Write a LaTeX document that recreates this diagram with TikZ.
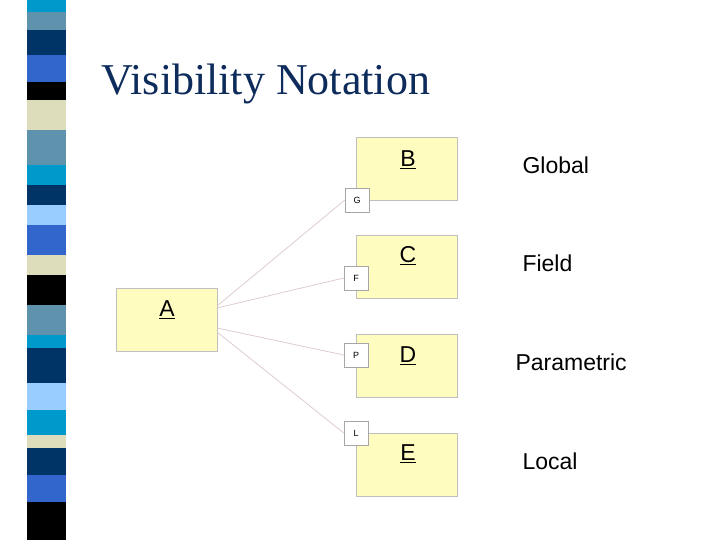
\documentclass[tikz,border=0pt]{standalone}
\usepackage{fontspec}
\setmainfont{Liberation Serif}
\setsansfont{Liberation Sans}
\begin{document}
\begin{tikzpicture}[x=1pt,y=-1pt,
  cls/.style={draw=black!25,fill=yellow!25!white,minimum width=101pt,minimum height=63pt,inner sep=0pt,anchor=north west},
  tag/.style={draw=black!35,fill=white,minimum width=24pt,minimum height=24pt,inner sep=0pt,font=\sffamily\fontsize{9}{9}\selectfont},
  cname/.style={font=\sffamily\fontsize{23}{23}\selectfont},
  lab/.style={font=\sffamily\fontsize{23}{23}\selectfont,anchor=west},
  conn/.style={draw=red!35!black!20,line width=0.8pt}]
\useasboundingbox (0,0) rectangle (720,540);
\definecolor{cA}{HTML}{0099CC}\definecolor{cB}{HTML}{5F93AD}\definecolor{cC}{HTML}{003366}
\definecolor{cD}{HTML}{3366CC}\definecolor{cE}{HTML}{000000}\definecolor{cF}{HTML}{DDDDBB}
\definecolor{cG}{HTML}{99CCFF}\definecolor{tcol}{HTML}{0D2C5C}
\foreach \a/\b/\c in {0/12/cA,12/30/cB,30/55/cC,55/82/cD,82/100/cE,100/130/cF,130/165/cB,165/185/cA,185/205/cC,205/225/cG,225/255/cD,255/275/cF,275/305/cE,305/335/cB,335/348/cA,348/383/cC,383/410/cG,410/435/cA,435/448/cF,448/475/cC,475/502/cD,502/540/cE}
  \fill[\c] (27,\a) rectangle (66,\b);
\node[anchor=west,text=tcol,font=\fontsize{44}{44}\selectfont] (title) at (98,84) {Visibility Notation};
\node[cls] (B) at (356,137) {};
\node[cls] (C) at (356,235) {};
\node[cls] (D) at (356,334) {};
\node[cls] (E) at (356,433) {};
\node[cls] (A) at (116,288) {};
\node[cname] at (408,160) {\underline{B}};
\node[cname] at (408,256) {\underline{C}};
\node[cname] at (408,356) {\underline{D}};
\node[cname] at (408,454) {\underline{E}};
\node[cname] at (167,310) {\underline{A}};
\node[tag] (G) at (357,200) {G};
\node[tag] (F) at (356,278) {F};
\node[tag] (P) at (356,355) {P};
\node[tag] (L) at (356,433) {L};
\coordinate (a1) at (217,306);\coordinate (a2) at (217,308);
\coordinate (a3) at (217,328);\coordinate (a4) at (217,332);
\draw[conn] (a1) -- (G.west);
\draw[conn] (a2) -- (F.west);
\draw[conn] (a3) -- (P.west);
\draw[conn] (a4) -- (L.west);
\node[lab] at (519,165) {Global};
\node[lab] at (519,263) {Field};
\node[lab] at (512,362) {Parametric};
\node[lab] at (519,461) {Local};
\end{tikzpicture}
\end{document}
